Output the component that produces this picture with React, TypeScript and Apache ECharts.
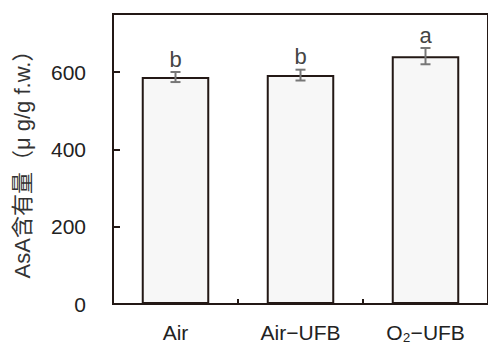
import React, { useEffect, useRef } from "react";
import * as echarts from "echarts";

const categories = ["Air", "Air\u2212UFB", "O\u2082\u2212UFB"];
const values = [587, 592, 641];
const errors = [13, 14, 21];
const letters = ["b", "b", "a"];
const yTicks = [0, 200, 400, 600];

const FONT = "'Liberation Sans', 'Noto Sans CJK JP', Arial, sans-serif";
const FRAME = "#231815";

export default function App() {
  const ref = useRef<HTMLDivElement>(null);
  useEffect(() => {
    const chart = echarts.init(ref.current!, null, { renderer: "svg" });
    chart.setOption({
      animation: false,
      grid: {
        left: 113,
        top: 14,
        width: 376,
        height: 290,
        show: true,
        borderColor: FRAME,
        borderWidth: 2,
        backgroundColor: "transparent",
      },
      xAxis: {
        type: "category",
        data: categories,
        axisLine: { show: true, lineStyle: { color: FRAME, width: 2 } },
        axisTick: { show: true, inside: true, length: 5, lineStyle: { color: FRAME, width: 2 } },
        axisLabel: { color: "#222", fontSize: 21, fontFamily: FONT, margin: 18 },
      },
      yAxis: {
        type: "value",
        min: 0,
        max: 750,
        interval: 200,
        name: "AsA含有量（μ g/g f.w.）",
        nameLocation: "middle",
        nameGap: 80,
        nameTextStyle: { color: "#333", fontSize: 22, fontFamily: FONT },
        splitLine: { show: false },
        axisLine: { show: true, lineStyle: { color: FRAME, width: 2 } },
        axisTick: { show: true, inside: true, length: 7, lineStyle: { color: FRAME, width: 2 } },
        axisLabel: {
          color: "#222",
          fontSize: 21,
          fontFamily: FONT,
          margin: 27,
          showMaxLabel: false,
          formatter: (v: number) => (yTicks.includes(v) ? String(v) : ""),
        },
      },
      series: [
        {
          type: "bar",
          data: values,
          barWidth: "54%",
          itemStyle: { color: "#f7f7f7", borderColor: FRAME, borderWidth: 2 },
          z: 2,
        },
        {
          type: "custom",
          z: 5,
          data: values.map((v, i) => [i, v, errors[i]]),
          renderItem: (params: any, api: any) => {
            const i = api.value(0);
            const v = api.value(1);
            const e = api.value(2);
            const top = api.coord([i, v + e]);
            const bot = api.coord([i, v - e]);
            const hw = 5;
            const st = { stroke: "#777", lineWidth: 2 };
            return {
              type: "group",
              children: [
                { type: "line", shape: { x1: top[0], y1: top[1], x2: bot[0], y2: bot[1] }, style: st },
                { type: "line", shape: { x1: top[0] - hw, y1: top[1], x2: top[0] + hw, y2: top[1] }, style: st },
                { type: "line", shape: { x1: bot[0] - hw, y1: bot[1], x2: bot[0] + hw, y2: bot[1] }, style: st },
                {
                  type: "text",
                  x: top[0],
                  y: top[1] - 2,
                  style: {
                    text: letters[params.dataIndex],
                    fill: "#444",
                    fontSize: 22,
                    fontFamily: FONT,
                    align: "center",
                    verticalAlign: "bottom",
                  },
                },
              ],
            };
          },
        },
      ],
    });
    return () => chart.dispose();
  }, []);
  return <div ref={ref} style={{ width: 488, height: 344, position: "absolute", left: 0, top: 0, background: "#fff" }} />;
}
